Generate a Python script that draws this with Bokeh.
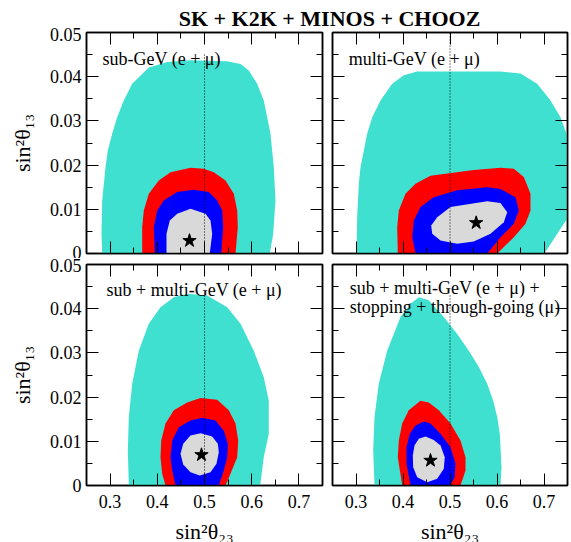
from bokeh.plotting import figure
from bokeh.layouts import column, row
from bokeh.models import LinearAxis, FixedTicker, Label, Range1d
from bokeh.embed import file_html
from bokeh.resources import INLINE

# ---------------- data ----------------
x_ticks = [0.3, 0.4, 0.5, 0.6, 0.7]
x_tick_labels = ["0.3", "0.4", "0.5", "0.6", "0.7"]
x_minor = [0.25, 0.35, 0.45, 0.55, 0.65, 0.75]
y_ticks = [0.0, 0.01, 0.02, 0.03, 0.04, 0.05]
y_tick_labels = ["0", "0.01", "0.02", "0.03", "0.04", "0.05"]
y_minor = [0.005, 0.015, 0.025, 0.035, 0.045]

title_text = "SK + K2K + MINOS + CHOOZ"
x_title = "sin\u00b2\u03b8\u2082\u2083"
y_title = "sin\u00b2\u03b8\u2081\u2083"
maximal_mixing = 0.5

# top-left: sub-GeV
tl_cyan_x = [0.2833, 0.2818, 0.2833, 0.2903, 0.2951, 0.3044, 0.3150, 0.3290, 0.3468, 0.3820, 0.4210,
             0.4703, 0.5481, 0.5763, 0.5939, 0.6116, 0.6256, 0.6328, 0.6398, 0.6468, 0.6504, 0.6455, 0.6384]
tl_cyan_y = [0.0, 0.00445, 0.0120, 0.0195, 0.0233, 0.0271, 0.0308, 0.0346, 0.0384, 0.0421, 0.0433,
             0.0437, 0.0435, 0.0429, 0.0414, 0.0384, 0.0346, 0.0308, 0.0271, 0.0195, 0.0120, 0.00445, 0.0]
tl_red_x = [0.3680, 0.3680, 0.3714, 0.3820, 0.4032, 0.4280, 0.4703, 0.4979, 0.5197, 0.5445, 0.5621, 0.5693, 0.5705, 0.5657]
tl_red_y = [0.0, 0.00595, 0.00973, 0.0135, 0.0165, 0.0184, 0.0194, 0.0192, 0.0184, 0.0165, 0.0135, 0.00973, 0.00595, 0.0]
tl_blue_x = [0.3947, 0.3926, 0.3998, 0.4138, 0.4422, 0.4773, 0.5091, 0.5269, 0.5375, 0.5396, 0.5354]
tl_blue_y = [0.0, 0.00595, 0.00973, 0.0120, 0.0139, 0.0144, 0.0139, 0.0120, 0.00973, 0.00595, 0.0]
tl_grey_x = [0.4195, 0.4195, 0.4265, 0.4422, 0.4703, 0.5021, 0.5127, 0.5163, 0.5112]
tl_grey_y = [0.0, 0.00445, 0.00747, 0.00898, 0.0101, 0.00898, 0.00747, 0.00445, 0.0]
tl_best = (0.4682, 0.0029)
tl_dot_top = 0.045

# top-right: multi-GeV
tr_cyan_x = [0.3011, 0.3025, 0.3060, 0.3096, 0.3238, 0.3345, 0.3521, 0.3770, 0.4017, 0.4302, 0.6074,
             0.6500, 0.6855, 0.7138, 0.7351, 0.7479, 0.7670, 0.7670, 0.7493, 0.7281, 0.7010]
tr_cyan_y = [0.0, 0.0082, 0.0158, 0.0195, 0.0271, 0.0308, 0.0346, 0.0384, 0.0403, 0.0412, 0.0412,
             0.0407, 0.0384, 0.0346, 0.0308, 0.0271, 0.0256, 0.0086, 0.00785, 0.00445, 0.0]
tr_red_x = [0.3889, 0.3877, 0.3911, 0.4053, 0.4266, 0.4585, 0.5506, 0.6074, 0.6358, 0.6570, 0.6713, 0.6713, 0.6606, 0.6358, 0.6004]
tr_red_y = [0.0, 0.00595, 0.00973, 0.0135, 0.0158, 0.0176, 0.0189, 0.0194, 0.0192, 0.0173, 0.0135, 0.00973, 0.00672, 0.00369, 0.0]
tr_blue_x = [0.4266, 0.4196, 0.4230, 0.4372, 0.4655, 0.5153, 0.5791, 0.6074, 0.6394, 0.6464, 0.6358, 0.6074, 0.5791]
tr_blue_y = [0.0, 0.00369, 0.00747, 0.0105, 0.0127, 0.0143, 0.0150, 0.0146, 0.0127, 0.00973, 0.00672, 0.00369, 0.0]
tr_grey_x = [0.4600, 0.4728, 0.5011, 0.5791, 0.6074, 0.6217, 0.6145, 0.5862, 0.5506, 0.5153, 0.4798, 0.4621]
tr_grey_y = [0.00633, 0.0082, 0.0105, 0.0118, 0.0114, 0.00934, 0.00708, 0.00445, 0.00271, 0.00219, 0.00294, 0.00445]
tr_best = (0.5557, 0.00694)
tr_dot_top = 0.05

# bottom-left: sub + multi-GeV
bl_cyan_x = [0.3397, 0.3375, 0.3397, 0.3468, 0.3608, 0.3820, 0.4068, 0.4350, 0.4633, 0.5057, 0.5481,
             0.5763, 0.6044, 0.6256, 0.6362, 0.6362, 0.6256, 0.6180]
bl_cyan_y = [0.0, 0.00792, 0.0155, 0.0230, 0.0305, 0.0366, 0.0403, 0.0426, 0.0434, 0.0430, 0.0403,
             0.0366, 0.0305, 0.0245, 0.0192, 0.0117, 0.0064, 0.0]
bl_red_x = [0.4174, 0.4104, 0.4068, 0.4083, 0.4174, 0.4350, 0.4633, 0.4915, 0.5269, 0.5515, 0.5657, 0.5714, 0.5693, 0.5551, 0.5445]
bl_red_y = [0.0, 0.00264, 0.0064, 0.0102, 0.0140, 0.0170, 0.0188, 0.0198, 0.0194, 0.0170, 0.0140, 0.0102, 0.0064, 0.00264, 0.0]
bl_blue_x = [0.4386, 0.4316, 0.4280, 0.4316, 0.4456, 0.4703, 0.4951, 0.5233, 0.5409, 0.5494, 0.5481, 0.5409, 0.5303]
bl_blue_y = [0.0, 0.00339, 0.0064, 0.0102, 0.0132, 0.0147, 0.0153, 0.0147, 0.0124, 0.00943, 0.0064, 0.00339, 0.0]
bl_grey_x = [0.4492, 0.4549, 0.4703, 0.4915, 0.5163, 0.5282, 0.5303, 0.5254, 0.5127, 0.4900, 0.4703, 0.4549]
bl_grey_y = [0.00717, 0.00943, 0.0113, 0.0118, 0.0111, 0.00943, 0.00753, 0.00491, 0.00301, 0.00226, 0.00301, 0.00475]
bl_best = (0.4936, 0.00694)
bl_dot_top = 0.0435

# bottom-right: sub + multi-GeV + stopping + through-going
br_cyan_x = [0.3394, 0.3366, 0.3394, 0.3485, 0.3664, 0.3947, 0.4160, 0.4336, 0.4549, 0.4868, 0.5153,
             0.5400, 0.5613, 0.5791, 0.5919, 0.6004, 0.6060, 0.6096, 0.6074]
br_cyan_y = [0.0, 0.00792, 0.0155, 0.0230, 0.0305, 0.0381, 0.0411, 0.0426, 0.0419, 0.0381, 0.0343,
             0.0305, 0.0268, 0.0230, 0.0192, 0.0155, 0.0117, 0.00415, 0.0]
br_red_x = [0.3983, 0.3890, 0.3911, 0.3983, 0.4123, 0.4372, 0.4549, 0.4762, 0.5011, 0.5223, 0.5330, 0.5330, 0.5223]
br_red_y = [0.0, 0.0064, 0.0102, 0.0140, 0.0170, 0.0192, 0.0188, 0.0170, 0.0140, 0.0102, 0.0064, 0.00339, 0.0]
br_blue_x = [0.4160, 0.4074, 0.4074, 0.4145, 0.4266, 0.4443, 0.4585, 0.4798, 0.5011, 0.5117, 0.5096, 0.5011]
br_blue_y = [0.0, 0.00491, 0.00867, 0.0117, 0.0136, 0.0145, 0.0140, 0.0117, 0.00867, 0.00491, 0.00188, 0.0]
br_grey_x = [0.4209, 0.4245, 0.4336, 0.4479, 0.4655, 0.4798, 0.4889, 0.4868, 0.4728, 0.4515, 0.4302, 0.4217]
br_grey_y = [0.00679, 0.00905, 0.0106, 0.0111, 0.0103, 0.00905, 0.0064, 0.00378, 0.00152, 0.00075, 0.00188, 0.00414]
br_best = (0.4585, 0.00566)
br_dot_top = 0.043

panel_texts = {
    "tl": ["sub-GeV (e + \u03bc)"],
    "tr": ["multi-GeV (e + \u03bc)"],
    "bl": ["sub + multi-GeV (e + \u03bc)"],
    "br": ["sub + multi-GeV (e + \u03bc) +", "stopping + through-going (\u03bc)"],
}

# ---------------- style ----------------
CYAN = "#40E0D0"
RED = "#FF0000"
BLUE = "#0000FF"
GREY = "#D9D9D9"
FONT = "Liberation Serif"


def style_axis(ax, ticks, minor, labels, show):
    ax.ticker = FixedTicker(ticks=ticks, minor_ticks=minor)
    ax.major_label_overrides = dict(zip(ticks, labels))
    ax.major_tick_in = 12
    ax.major_tick_out = 0
    ax.minor_tick_in = 6
    ax.minor_tick_out = 0
    ax.major_tick_line_color = "black"
    ax.minor_tick_line_color = "black"
    ax.major_tick_line_width = 1
    ax.minor_tick_line_width = 1
    ax.axis_line_color = "black"
    ax.axis_line_width = 1.5
    ax.major_label_text_font = FONT
    if show:
        ax.major_label_text_color = "black"
        ax.major_label_text_font_size = "18px"
    else:
        ax.major_label_text_color = None
        ax.major_label_text_font_size = "1px"
        ax.major_label_standoff = 0
    ax.axis_label_text_font = FONT
    ax.axis_label_text_font_size = "22px"
    ax.axis_label_text_font_style = "normal"
    ax.axis_label_text_color = "black"


def make_panel(cx, cy, rx, ry, bx, by, gx, gy, best, dot_top, texts, text_pos,
               fw, bl, br, bt, bb, left_labels, bottom_labels):
    p = figure(frame_width=fw, frame_height=221, x_range=Range1d(0.25, 0.75), y_range=Range1d(0.0, 0.05),
               toolbar_location=None, output_backend="svg",
               min_border_left=bl, min_border_right=br, min_border_top=bt, min_border_bottom=bb)
    p.grid.visible = False
    p.outline_line_color = "black"
    p.outline_line_width = 1.5
    p.background_fill_color = "white"
    p.border_fill_color = "white"

    p.patch(cx, cy, fill_color=CYAN, line_color=None)
    p.patch(rx, ry, fill_color=RED, line_color=None)
    p.patch(bx, by, fill_color=BLUE, line_color=None)
    p.patch(gx, gy, fill_color=GREY, line_color=None)
    p.line([maximal_mixing, maximal_mixing], [0.0, dot_top], line_color="black", line_width=1, line_dash="1 2")
    p.scatter([best[0]], [best[1]], marker="star", size=14, fill_color="black", line_color="black")

    for t, (tx, ty) in zip(texts, text_pos):
        p.add_layout(Label(x=tx, y=ty, text=t, text_font=FONT, text_font_size="18px",
                           text_color="black", text_align="left", text_baseline="alphabetic"))

    xb = p.xaxis[0]
    yl = p.yaxis[0]
    style_axis(xb, x_ticks, x_minor, x_tick_labels, bottom_labels)
    style_axis(yl, y_ticks, y_minor, y_tick_labels, left_labels)
    if bottom_labels:
        xb.major_label_standoff = 9
        xb.axis_label = x_title
        xb.axis_label_standoff = 8
    if left_labels:
        yl.major_label_standoff = 5
        yl.axis_label = y_title
        yl.axis_label_standoff = 12
    xa = LinearAxis()
    style_axis(xa, x_ticks, x_minor, x_tick_labels, False)
    p.add_layout(xa, "above")
    yr = LinearAxis()
    style_axis(yr, y_ticks, y_minor, y_tick_labels, False)
    p.add_layout(yr, "right")
    return p


tl = make_panel(tl_cyan_x, tl_cyan_y, tl_red_x, tl_red_y, tl_blue_x, tl_blue_y, tl_grey_x, tl_grey_y,
                tl_best, tl_dot_top, panel_texts["tl"], [(0.2839, 0.0441)],
                236, 86, 5, 5, 5, True, False)
tr = make_panel(tr_cyan_x, tr_cyan_y, tr_red_x, tr_red_y, tr_blue_x, tr_blue_y, tr_grey_x, tr_grey_y,
                tr_best, tr_dot_top, panel_texts["tr"], [(0.2847, 0.0441)],
                235, 5, 4, 5, 5, False, False)
bl = make_panel(bl_cyan_x, bl_cyan_y, bl_red_x, bl_red_y, bl_blue_x, bl_blue_y, bl_grey_x, bl_grey_y,
                bl_best, bl_dot_top, panel_texts["bl"], [(0.2924, 0.0442)],
                236, 86, 5, 6, 57, True, True)
br = make_panel(br_cyan_x, br_cyan_y, br_red_x, br_red_y, br_blue_x, br_blue_y, br_grey_x, br_grey_y,
                br_best, br_dot_top, panel_texts["br"], [(0.2868, 0.0446), (0.2868, 0.04045)],
                235, 5, 4, 6, 57, False, True)

tf = figure(width=571, height=27, x_range=Range1d(0, 571), y_range=Range1d(0, 27),
            toolbar_location=None, output_backend="svg", x_axis_location=None, y_axis_location=None,
            min_border_left=0, min_border_right=0, min_border_top=0, min_border_bottom=0)
tf.grid.visible = False
tf.outline_line_color = None
tf.border_fill_color = "white"
tf.add_layout(Label(x=329, y=9, text=title_text, text_font=FONT, text_font_style="bold",
                    text_font_size="22px", text_color="black", text_align="center",
                    text_baseline="alphabetic"))

layout = column(tf, row(tl, tr), row(bl, br))

open("out.html", "w").write(file_html(layout, INLINE))
